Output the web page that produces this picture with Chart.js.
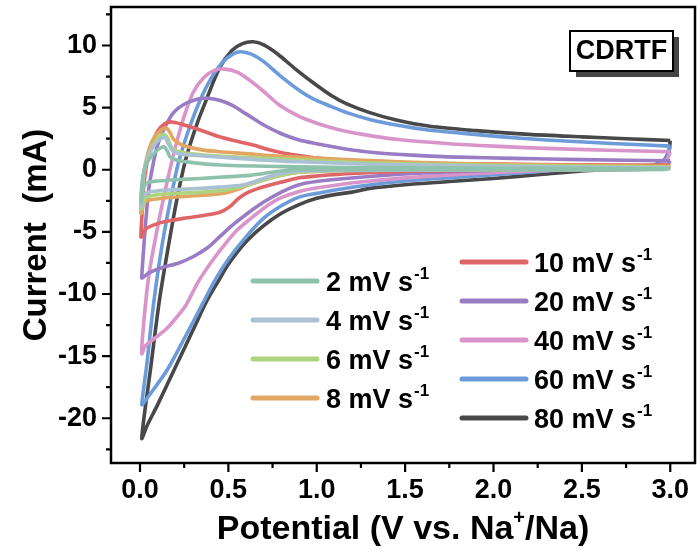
<!DOCTYPE html>
<html><head><meta charset="utf-8">
<script src="https://cdn.jsdelivr.net/npm/chart.js@4.4.0/dist/chart.umd.min.js"></script>
<style>html,body{margin:0;padding:0;background:#fff;}#wrap{width:697px;height:556px;}</style>
</head><body><div id="wrap"><canvas id="c" width="697" height="556"></canvas></div>
<script>
const FONT = "'Liberation Sans', Arial, Helvetica, sans-serif";

// ---------- data (potential in V, current in mA) ----------
const seriesLabels = ['2', '4', '6', '8', '10', '20', '40', '60', '80'];
const seriesColors = ['#8fc2ad', '#a9c1d3', '#aed47e', '#e2a663', '#e06566', '#9a7cc5', '#d994c9', '#6c9bd9', '#484848'];

const V2 = [3.0, 2.97, 2.5, 2.0, 1.5, 1.0, 0.9, 0.8, 0.7, 0.62, 0.45, 0.34, 0.2, 0.1, 0.05, 0.02, 0.008, 0.005, 0.012, 0.03, 0.06, 0.1, 0.135, 0.155, 0.17, 0.2, 0.26, 0.45, 0.9, 1.5, 2.0, 2.5, 3.0];
const I2 = [0.1, 0.03, 0.0, 0.0, 0.0, 0.0, 0.02, -0.1, -0.3, -0.45, -0.6, -0.7, -0.8, -0.9, -1.0, -1.4, -2.6, -2.6, -1.0, 0.3, 1.0, 1.6, 1.85, 1.5, 1.05, 0.8, 0.64, 0.38, 0.24, 0.15, 0.12, 0.11, 0.1];

const V4 = [3.0, 2.97, 2.0, 1.2, 0.9, 0.8, 0.72, 0.65, 0.58, 0.45, 0.34, 0.2, 0.1, 0.04, 0.015, 0.008, 0.005, 0.012, 0.03, 0.06, 0.1, 0.14, 0.16, 0.19, 0.24, 0.3, 0.55, 0.9, 1.3, 2.0, 2.5, 3.0];
const I4 = [0.15, 0.05, 0.0, -0.05, -0.1, -0.3, -0.6, -0.95, -1.23, -1.4, -1.5, -1.6, -1.7, -1.85, -2.2, -2.9, -2.9, -1.3, 0.4, 1.5, 2.3, 2.6, 2.1, 1.45, 1.25, 1.18, 0.92, 0.64, 0.45, 0.28, 0.2, 0.15];

const V6 = [3.0, 2.97, 2.5, 1.5, 1.0, 0.85, 0.75, 0.68, 0.6, 0.5, 0.35, 0.2, 0.08, 0.03, 0.01, 0.005, 0.012, 0.03, 0.06, 0.1, 0.13, 0.155, 0.175, 0.2, 0.26, 0.4, 0.6, 0.9, 1.3, 2.0, 3.0];
const I6 = [0.2, 0.08, 0.02, 0.0, -0.1, -0.3, -0.6, -0.9, -1.25, -1.6, -1.8, -1.9, -2.05, -2.3, -3.1, -3.1, -1.5, 0.3, 1.6, 2.5, 2.85, 2.6, 1.9, 1.55, 1.35, 1.15, 1.0, 0.8, 0.55, 0.35, 0.22];

const V8 = [3.0, 2.97, 2.8, 2.0, 1.2, 0.9, 0.8, 0.72, 0.66, 0.6, 0.55, 0.49, 0.4, 0.25, 0.12, 0.05, 0.02, 0.01, 0.005, 0.012, 0.025, 0.05, 0.08, 0.12, 0.15, 0.17, 0.19, 0.23, 0.27, 0.35, 0.45, 0.6, 0.73, 0.9, 1.2, 1.5, 2.0, 2.5, 3.0];
const I8 = [0.28, 0.1, 0.05, 0.0, -0.05, -0.2, -0.45, -0.75, -1.0, -1.3, -1.6, -1.85, -2.0, -2.15, -2.3, -2.45, -2.7, -3.5, -3.5, -1.8, 0.0, 1.6, 2.6, 3.2, 3.35, 3.0, 2.45, 2.05, 1.85, 1.6, 1.45, 1.3, 1.15, 1.0, 0.8, 0.62, 0.45, 0.35, 0.28];

const V10 = [3.0, 2.97, 2.85, 2.3, 1.6, 1.2, 1.0, 0.9, 0.81, 0.73, 0.65, 0.6, 0.55, 0.51, 0.47, 0.43, 0.35, 0.25, 0.15, 0.075, 0.03, 0.01, 0.005, 0.012, 0.02, 0.04, 0.07, 0.1, 0.14, 0.18, 0.24, 0.34, 0.45, 0.53, 0.64, 0.72, 0.81, 0.9, 1.0, 1.2, 1.36, 1.6, 2.0, 2.5, 3.0];
const I10 = [0.38, 0.15, 0.05, 0.0, -0.1, -0.3, -0.5, -0.65, -0.96, -1.25, -1.6, -1.9, -2.4, -2.95, -3.3, -3.5, -3.7, -3.9, -4.15, -4.45, -4.8, -5.4, -5.4, -3.5, -1.5, 0.6, 2.1, 3.1, 3.7, 3.85, 3.65, 3.2, 2.65, 2.35, 2.0, 1.65, 1.35, 1.15, 0.95, 0.7, 0.6, 0.52, 0.46, 0.4, 0.38];

const V20 = [3.0, 2.98, 2.93, 2.7, 2.11, 1.54, 1.07, 0.9, 0.8, 0.7, 0.6, 0.52, 0.45, 0.38, 0.3, 0.22, 0.12, 0.05, 0.015, 0.01, 0.02, 0.03, 0.05, 0.075, 0.1, 0.14, 0.19, 0.26, 0.33, 0.38, 0.45, 0.52, 0.6, 0.7, 0.8, 0.9, 1.0, 1.17, 1.35, 1.54, 1.8, 2.11, 2.5, 3.0];
const I20 = [0.72, 0.35, 0.1, 0.0, 0.0, -0.3, -0.83, -1.2, -1.8, -2.6, -3.6, -4.5, -5.4, -6.3, -7.0, -7.5, -7.9, -8.3, -8.7, -8.7, -6.5, -4.6, -1.5, 0.5, 2.0, 3.4, 4.6, 5.35, 5.7, 5.75, 5.6, 5.2, 4.5, 3.6, 2.9, 2.4, 2.1, 1.65, 1.35, 1.18, 1.02, 0.92, 0.82, 0.72];

const V40 = [3.0, 2.98, 2.93, 2.8, 2.3, 1.73, 1.26, 0.98, 0.9, 0.79, 0.73, 0.62, 0.55, 0.48, 0.41, 0.33, 0.26, 0.2, 0.15, 0.08, 0.03, 0.01, 0.02, 0.05, 0.1, 0.15, 0.2, 0.25, 0.3, 0.36, 0.42, 0.48, 0.55, 0.62, 0.7, 0.79, 0.9, 1.0, 1.12, 1.26, 1.45, 1.73, 2.0, 2.3, 2.65, 3.0];
const I40 = [1.45, 0.8, 0.3, 0.15, -0.05, -0.43, -0.96, -1.5, -1.75, -2.3, -2.8, -4.0, -4.85, -6.0, -7.3, -9.0, -10.9, -12.0, -12.8, -13.6, -14.2, -14.8, -12.5, -8.5, -4.6, -1.2, 1.8, 4.3, 6.2, 7.4, 8.0, 8.1, 7.85, 7.2, 6.3, 5.2, 4.3, 3.75, 3.25, 2.85, 2.45, 2.12, 1.9, 1.72, 1.57, 1.45];

const V60 = [3.0, 2.98, 2.93, 2.8, 2.5, 2.1, 1.8, 1.54, 1.23, 1.0, 0.9, 0.8, 0.7, 0.6, 0.5, 0.42, 0.35, 0.25, 0.15, 0.06, 0.02, 0.01, 0.04, 0.075, 0.12, 0.17, 0.22, 0.28, 0.34, 0.4, 0.47, 0.53, 0.57, 0.63, 0.7, 0.79, 0.9, 0.98, 1.08, 1.17, 1.3, 1.45, 1.63, 1.83, 2.05, 2.3, 2.67, 3.0];
const I60 = [1.9, 1.0, 0.45, 0.25, 0.1, -0.3, -0.6, -0.85, -1.35, -1.9, -2.2, -2.9, -3.9, -5.4, -7.2, -9.0, -10.9, -13.6, -16.2, -18.0, -18.8, -18.9, -15.5, -11.0, -6.5, -2.6, 0.7, 3.4, 5.6, 7.3, 8.7, 9.35, 9.5, 9.3, 8.7, 7.6, 6.4, 5.7, 5.1, 4.6, 4.05, 3.6, 3.2, 2.93, 2.65, 2.4, 2.12, 1.9];

const V80 = [3.0, 2.99, 2.95, 2.85, 2.7, 2.5, 2.25, 2.0, 1.75, 1.5, 1.3, 1.2, 1.1, 1.0, 0.9, 0.8, 0.7, 0.6, 0.5, 0.45, 0.38, 0.3, 0.2, 0.1, 0.04, 0.01, 0.06, 0.11, 0.16, 0.21, 0.26, 0.32, 0.38, 0.45, 0.52, 0.58, 0.64, 0.7, 0.78, 0.88, 0.98, 1.08, 1.17, 1.3, 1.45, 1.64, 1.9, 2.2, 2.5, 2.75, 3.0];
const I80 = [2.35, 1.4, 0.6, 0.2, 0.05, -0.1, -0.4, -0.7, -0.95, -1.2, -1.5, -1.8, -2.0, -2.3, -2.8, -3.5, -4.5, -5.8, -7.6, -8.8, -10.5, -12.9, -15.9, -18.9, -20.6, -21.6, -16.0, -10.5, -6.2, -2.3, 0.9, 3.6, 5.8, 8.2, 9.6, 10.15, 10.3, 10.05, 9.3, 8.1, 7.0, 6.0, 5.3, 4.6, 4.0, 3.5, 3.15, 2.85, 2.65, 2.5, 2.35];

const xTickValues = [0.0, 0.5, 1.0, 1.5, 2.0, 2.5, 3.0];
const yTickValues = [-20, -15, -10, -5, 0, 5, 10];
const xMinorValues = [0.25, 0.75, 1.25, 1.75, 2.25, 2.75];
const yMinorValues = [-22.5, -17.5, -12.5, -7.5, -2.5, 2.5, 7.5, 12.5];
const xTitleMain = 'Potential (V vs. Na', xTitleSup = '+', xTitleEnd = '/Na)';
const yTitle = 'Current  (mA)';
const sampleLabel = 'CDRTF';

// ---------- build ----------
const allV = [V2, V4, V6, V8, V10, V20, V40, V60, V80];
const allI = [I2, I4, I6, I8, I10, I20, I40, I60, I80];
const datasets = allV.map((vs, k) => ({
  label: seriesLabels[k] + ' mV s-1',
  data: vs.map((v, j) => ({x: v, y: allI[k][j]})),
  borderColor: seriesColors[k],
  backgroundColor: seriesColors[k],
  borderWidth: 3.6,
  pointRadius: 0,
  showLine: true,
  tension: 0.3,
  fill: false
}));

const decor = {
  id: 'decor',
  afterDraw(chart) {
    const ctx = chart.ctx, ca = chart.chartArea;
    const xs = chart.scales.x, ys = chart.scales.y;
    ctx.save();
    ctx.strokeStyle = '#000'; ctx.lineWidth = 2.5;
    ctx.strokeRect(ca.left, ca.top, ca.right - ca.left, ca.bottom - ca.top);
    ctx.lineWidth = 2.2;
    ctx.beginPath();
    xTickValues.forEach(v => { const p = xs.getPixelForValue(v); ctx.moveTo(p, ca.bottom); ctx.lineTo(p, ca.bottom + 9); });
    xMinorValues.forEach(v => { const p = xs.getPixelForValue(v); ctx.moveTo(p, ca.bottom); ctx.lineTo(p, ca.bottom + 5); });
    yTickValues.forEach(v => { const p = ys.getPixelForValue(v); ctx.moveTo(ca.left, p); ctx.lineTo(ca.left - 9, p); });
    yMinorValues.forEach(v => { const p = ys.getPixelForValue(v); ctx.moveTo(ca.left, p); ctx.lineTo(ca.left - 5, p); });
    ctx.stroke();

    // axis titles
    ctx.fillStyle = '#000';
    ctx.textBaseline = 'alphabetic';
    const tf = 'bold 34px ' + FONT, sf = 'bold 20px ' + FONT;
    const cx = (ca.left + ca.right) / 2;
    ctx.font = tf; const w1 = ctx.measureText(xTitleMain).width;
    ctx.font = sf; const w2 = ctx.measureText(xTitleSup).width;
    ctx.font = tf; const w3 = ctx.measureText(xTitleEnd).width;
    const x0 = cx - (w1 + w2 + w3) / 2;
    const by = 539;
    ctx.textAlign = 'left';
    ctx.font = tf; ctx.fillText(xTitleMain, x0, by);
    ctx.font = sf; ctx.fillText(xTitleSup, x0 + w1, by - 15);
    ctx.font = tf; ctx.fillText(xTitleEnd, x0 + w1 + w2, by);

    ctx.save();
    ctx.translate(46, (ca.top + ca.bottom) / 2);
    ctx.rotate(-Math.PI / 2);
    ctx.textAlign = 'center';
    ctx.font = 'bold 33px ' + FONT;
    ctx.fillText(yTitle, 0, 0);
    ctx.restore();

    // legend
    const cols = [
      {idx: [0, 1, 2, 3], lx: 253, tx: 326, y0: 281, dy: 39},
      {idx: [4, 5, 6, 7, 8], lx: 462, tx: 534, y0: 262, dy: 39}
    ];
    cols.forEach(c => {
      c.idx.forEach((k, r) => {
        const y = c.y0 + r * c.dy;
        ctx.strokeStyle = seriesColors[k]; ctx.lineWidth = 5; ctx.lineCap = 'round';
        ctx.beginPath(); ctx.moveTo(c.lx, y); ctx.lineTo(c.lx + 64, y); ctx.stroke();
        ctx.fillStyle = '#000';
        ctx.font = 'bold 27px ' + FONT;
        ctx.textAlign = 'left';
        const main = seriesLabels[k] + ' mV s';
        ctx.fillText(main, c.tx, y + 10);
        const mw = ctx.measureText(main).width;
        ctx.font = 'bold 17px ' + FONT;
        ctx.fillText('-1', c.tx + mw + 1, y - 2);
      });
    });

    // sample label box
    const bx = 570, byy = 31, bw = 103, bh = 40;
    ctx.fillStyle = '#444';
    ctx.fillRect(bx + 6, byy + 6, bw, bh);
    ctx.fillStyle = '#fff';
    ctx.fillRect(bx, byy, bw, bh);
    ctx.strokeStyle = '#000'; ctx.lineWidth = 2;
    ctx.strokeRect(bx, byy, bw, bh);
    ctx.fillStyle = '#000';
    ctx.font = 'bold 27px ' + FONT;
    ctx.textAlign = 'center'; ctx.textBaseline = 'middle';
    ctx.fillText(sampleLabel, bx + bw / 2, byy + bh / 2 + 1);
    ctx.restore();
  }
};

new Chart(document.getElementById('c'), {
  type: 'scatter',
  data: {datasets},
  options: {
    responsive: false,
    animation: false,
    devicePixelRatio: 1,
    layout: {padding: {top: 7, right: 2, left: 0, bottom: 0}},
    plugins: {legend: {display: false}, tooltip: {enabled: false}},
    scales: {
      x: {
        type: 'linear', min: -0.164, max: 3.14,
        afterFit: s => { s.height = 93; s.paddingLeft = 0; s.paddingRight = 0; },
        afterBuildTicks: s => { s.ticks = xTickValues.map(v => ({value: v})); },
        grid: {display: false, drawTicks: false},
        border: {display: false},
        ticks: {color: '#000', padding: 11, maxRotation: 0, autoSkip: false,
                font: {family: FONT, size: 27, weight: 'bold'},
                callback: v => Number(v).toFixed(1)}
      },
      y: {
        type: 'linear', min: -23.6, max: 13.1,
        afterFit: s => { s.width = 111; s.paddingTop = 0; s.paddingBottom = 0; },
        afterBuildTicks: s => { s.ticks = yTickValues.map(v => ({value: v})); },
        grid: {display: false, drawTicks: false},
        border: {display: false},
        ticks: {color: '#000', padding: 14, autoSkip: false,
                font: {family: FONT, size: 27, weight: 'bold'},
                callback: v => String(v)}
      }
    }
  },
  plugins: [decor]
});
</script></body></html>
